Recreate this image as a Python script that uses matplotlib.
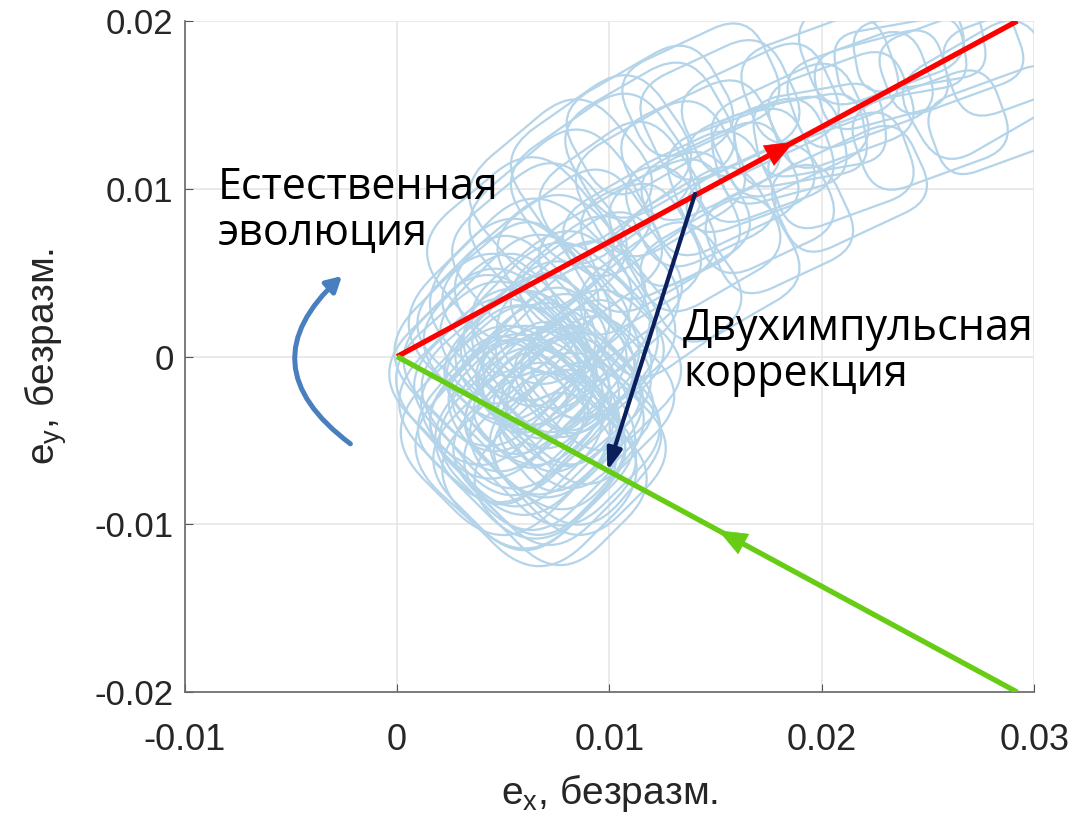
import numpy as np
import matplotlib
matplotlib.use("Agg")
import matplotlib.pyplot as plt
from matplotlib.patches import FancyBboxPatch, FancyArrowPatch
from matplotlib.transforms import Affine2D

# --- траектория вектора эксцентриситета: петли (центр, размер, поворот) ---
loop_x = [0.0046, 0.0051, 0.0056, 0.0060, 0.0063, 0.0058, 0.0067, 0.0072, 0.0070,
          0.0074, 0.0065, 0.0077, 0.0053, 0.0049, 0.0067, 0.0079, 0.0084, 0.0086,
          0.0060, 0.0070, 0.0077, 0.0063, 0.0084, 0.0058, 0.0049,
          0.0051, 0.0058, 0.0065, 0.0049, 0.0046, 0.0053, 0.0063, 0.0072, 0.0079,
          0.0084, 0.0091, 0.0089, 0.0067, 0.0058, 0.0074, 0.0082, 0.0067, 0.0056,
          0.0044, 0.0041, 0.0060, 0.0072, 0.0077, 0.0096, 0.0093,
          0.0067, 0.0077, 0.0086, 0.0063, 0.0077, 0.0053, 0.0091,
          0.0096, 0.0105, 0.0114, 0.0124, 0.0133, 0.0143, 0.0152, 0.0162, 0.0171,
          0.0180, 0.0190, 0.0199, 0.0185, 0.0209, 0.0218, 0.0228, 0.0237, 0.0246,
          0.0261, 0.0275, 0.0284, 0.0289, 0.0124, 0.0143, 0.0105, 0.0086, 0.0171,
          0.0199, 0.0228, 0.0077, 0.0096, 0.0119, 0.0067, 0.0152, 0.0143, 0.0171,
          0.0209, 0.0251,
          0.0058, 0.0077, 0.0096, 0.0119, 0.0143, 0.0152, 0.0180, 0.0213, 0.0124]
loop_y = [-0.0002, -0.0014, -0.0026, -0.0038, -0.0049, -0.0020, -0.0008, 0.0004, -0.0026,
          -0.0038, 0.0016, 0.0022, 0.0010, -0.0038, -0.0055, -0.0014, -0.0032, 0.0004,
          -0.0002, -0.0017, -0.0029, -0.0032, -0.0008, 0.0034, 0.0022,
          -0.0044, -0.0052, -0.0049, -0.0026, -0.0014, 0.0022, 0.0034, 0.0040, -0.0044,
          -0.0049, -0.0026, 0.0016, -0.0038, -0.0014, -0.0002, -0.0023, 0.0010, -0.0038,
          0.0004, -0.0008, -0.0061, -0.0061, 0.0010, -0.0008, 0.0034,
          -0.0067, -0.0073, -0.0055, -0.0014, -0.0044, -0.0026, -0.0002,
          0.0040, 0.0058, 0.0070, 0.0076, 0.0082, 0.0094, 0.0100, 0.0111, 0.0117,
          0.0123, 0.0129, 0.0135, 0.0135, 0.0147, 0.0159, 0.0165, 0.0177, 0.0183,
          0.0177, 0.0159, 0.0141, 0.0177, 0.0106, 0.0123, 0.0094, 0.0064, 0.0147,
          0.0165, 0.0189, 0.0082, 0.0106, 0.0129, 0.0064, 0.0147, 0.0070, 0.0088,
          0.0111, 0.0135,
          0.0064, 0.0100, 0.0117, 0.0141, 0.0159, 0.0052, 0.0076, 0.0100, 0.0034]
loop_w = [0.0075, 0.0078, 0.0080, 0.0078, 0.0075, 0.0082, 0.0080, 0.0075, 0.0080,
          0.0071, 0.0080, 0.0075, 0.0071, 0.0071, 0.0071, 0.0071, 0.0066, 0.0071,
          0.0057, 0.0052, 0.0057, 0.0047, 0.0052, 0.0066, 0.0071,
          0.0087, 0.0085, 0.0082, 0.0085, 0.0082, 0.0085, 0.0085, 0.0080, 0.0080,
          0.0071, 0.0071, 0.0075, 0.0061, 0.0061, 0.0061, 0.0057, 0.0057, 0.0071,
          0.0080, 0.0080, 0.0075, 0.0071, 0.0080, 0.0066, 0.0071,
          0.0080, 0.0071, 0.0071, 0.0047, 0.0052, 0.0047, 0.0052,
          0.0071, 0.0071, 0.0066, 0.0071, 0.0061, 0.0066, 0.0071, 0.0066, 0.0066,
          0.0061, 0.0061, 0.0061, 0.0071, 0.0066, 0.0066, 0.0061, 0.0061, 0.0061,
          0.0066, 0.0071, 0.0066, 0.0061, 0.0075, 0.0071, 0.0071, 0.0071, 0.0071,
          0.0071, 0.0075, 0.0080, 0.0080, 0.0075, 0.0075, 0.0071, 0.0071, 0.0066,
          0.0066, 0.0071,
          0.0080, 0.0080, 0.0080, 0.0075, 0.0071, 0.0071, 0.0066, 0.0071, 0.0071]
loop_h = [0.0095, 0.0089, 0.0095, 0.0098, 0.0095, 0.0101, 0.0095, 0.0089, 0.0101,
          0.0095, 0.0095, 0.0089, 0.0089, 0.0083, 0.0089, 0.0089, 0.0077, 0.0083,
          0.0072, 0.0066, 0.0066, 0.0060, 0.0060, 0.0077, 0.0083,
          0.0107, 0.0110, 0.0104, 0.0104, 0.0101, 0.0101, 0.0101, 0.0095, 0.0095,
          0.0089, 0.0083, 0.0089, 0.0077, 0.0077, 0.0072, 0.0072, 0.0066, 0.0089,
          0.0098, 0.0095, 0.0095, 0.0089, 0.0101, 0.0083, 0.0083,
          0.0101, 0.0089, 0.0089, 0.0054, 0.0060, 0.0060, 0.0060,
          0.0072, 0.0072, 0.0072, 0.0066, 0.0066, 0.0066, 0.0060, 0.0060, 0.0060,
          0.0054, 0.0048, 0.0048, 0.0060, 0.0054, 0.0054, 0.0048, 0.0042, 0.0042,
          0.0048, 0.0060, 0.0048, 0.0054, 0.0072, 0.0066, 0.0072, 0.0077, 0.0060,
          0.0060, 0.0060, 0.0083, 0.0077, 0.0072, 0.0083, 0.0066, 0.0066, 0.0060,
          0.0054, 0.0054,
          0.0089, 0.0083, 0.0077, 0.0066, 0.0060, 0.0066, 0.0060, 0.0054, 0.0072]
loop_rot = [45, 45, 45, 45, 45, 40, 45, 40, 45, 50, 45, 40, 45, 50, 45, 45, 45, 40,
            40, 45, 40, 45, 40, 40, 45,
            45, 48, 45, 45, 42, 45, 45, 40, 45, 50, 45, 40, 45, 40, 45, 45, 40, 45,
            45, 45, 45, 45, 45, 45, 40,
            45, 45, 45, 30, 40, 45, 35,
            35, 30, 30, 25, 30, 25, 25, 20, 20, 15, 10, 10, 25, 20, 20, 15, 10, 10,
            20, 30, 20, 20, 30, 25, 35, 35, 25, 20, 20, 40, 35, 30, 40, 25, 30, 25,
            20, 20,
            40, 40, 35, 30, 25, 30, 25, 25, 35]

# --- прямые и стрелки ---
red_x = [0.0, 0.0292]
red_y = [0.0, 0.020]
green_x = [0.0, 0.0292]
green_y = [0.0, -0.020]
corr_start = (0.01403, 0.0097)
corr_end = (0.0099, -0.0068)
evol_start = (-0.0022, -0.0052)
evol_end = (-0.0026, 0.0048)

xticks = [-0.01, 0, 0.01, 0.02, 0.03]
yticks = [-0.02, -0.01, 0, 0.01, 0.02]

plt.rcParams['mathtext.fontset'] = 'custom'
plt.rcParams['mathtext.rm'] = 'Liberation Sans'
plt.rcParams['mathtext.it'] = 'Liberation Sans'

fig = plt.figure(figsize=(10.74, 8.24), dpi=100)
ax = fig.add_axes([0.172, 0.160, 0.791, 0.8145])
ax.set_xlim(-0.01, 0.03)
ax.set_ylim(-0.02, 0.02)

traj_color = '#b4d4ea'
aspect = (0.04 / 671) / (0.04 / 849)
for cx, cy, w, h, rot in zip(loop_x, loop_y, loop_w, loop_h, loop_rot):
    px, py = ax.transData.transform((cx, cy))
    r = 0.38 * min(w, h / aspect)
    p = FancyBboxPatch((cx - w / 2, cy - h / 2), w, h,
                       boxstyle=f"round,pad=0,rounding_size={r}",
                       mutation_aspect=aspect, fill=False,
                       edgecolor=traj_color, linewidth=1.6, zorder=2)
    p.set_transform(ax.transData + Affine2D().rotate_deg_around(px, py, rot))
    ax.add_patch(p)

ax.plot(red_x, red_y, color='#ff0000', lw=3.8, solid_capstyle='butt', zorder=4)
ax.plot(green_x, green_y, color='#66cc14', lw=3.8, solid_capstyle='butt', zorder=4)

# стрелки на прямых
k = 0.02 / 0.0292
ax.annotate('', xy=(0.0188, 0.0188 * k), xytext=(0.0165, 0.0165 * k),
            arrowprops=dict(arrowstyle='-|>,head_length=2.0,head_width=0.8',
                            color='#ff0000', lw=0.5), zorder=5)
ax.annotate('', xy=(0.0150, -0.0150 * k), xytext=(0.0172, -0.0172 * k),
            arrowprops=dict(arrowstyle='-|>,head_length=2.0,head_width=0.8',
                            color='#66cc14', lw=0.5), zorder=5)

ax.annotate('', xy=corr_end, xytext=corr_start,
            arrowprops=dict(arrowstyle='-|>,head_length=1.3,head_width=0.45',
                            color='#0a1f5c', lw=3, shrinkA=0, shrinkB=0), zorder=6)

arc = FancyArrowPatch(evol_start, evol_end, connectionstyle='arc3,rad=-0.6',
                      arrowstyle='-|>,head_length=9,head_width=5',
                      color='#4a7fbf', lw=3.6, shrinkA=0, shrinkB=0, zorder=6)
ax.add_patch(arc)

txt_font = ['Open Sans', 'DejaVu Sans']
ax.text(-0.00843, 0.0114, 'Естественная\nэволюция', fontsize=31, family=txt_font,
        va='top', ha='left', linespacing=1.05, zorder=7)
ax.text(0.01347, 0.0030, 'Двухимпульсная\nкоррекция', fontsize=31, family=txt_font,
        va='top', ha='left', linespacing=1.05, zorder=7)

ax.set_xticks(xticks)
ax.set_yticks(yticks)
ax.set_xticklabels([f'{t:g}' for t in xticks], family='Liberation Sans', fontsize=26)
ax.set_yticklabels([f'{t:g}' for t in yticks], family='Liberation Sans', fontsize=25)
ax.tick_params(direction='in', length=6, color='#555555', labelcolor='#262626')
ax.tick_params(axis='x', pad=22)
ax.tick_params(axis='y', pad=8)
ax.grid(True, color='#e6e6e6', lw=1.2)
ax.set_axisbelow(True)
for s in ['top', 'right']:
    ax.spines[s].set_visible(False)
for s in ['left', 'bottom']:
    ax.spines[s].set_color('#666666')
    ax.spines[s].set_linewidth(1.2)

ax.set_xlabel(r'$\mathregular{e_x}$, безразм.', family='Liberation Sans',
              fontsize=28, color='#262626', labelpad=10)
ax.set_ylabel(r'$\mathregular{e_y}$, безразм.', family='Liberation Sans',
              fontsize=28, color='#262626', labelpad=18)

ax.set_xlim(-0.01, 0.03)
ax.set_ylim(-0.02, 0.02)
fig.savefig('out.png', dpi=100)
